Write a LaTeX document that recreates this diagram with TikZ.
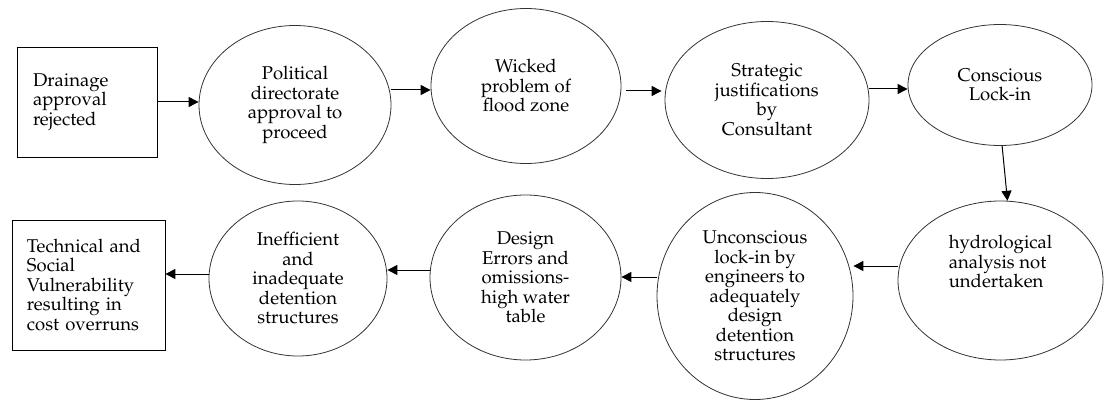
\documentclass[tikz,border=0pt]{standalone}
\usepackage[T1]{fontenc}
\usepackage{mathpazo}
\usetikzlibrary{shapes.geometric}
\usetikzlibrary{arrows.meta}

\begin{document}
\begin{tikzpicture}[
stage/.style={ellipse, inner sep=0pt, line width=0.8pt, draw=black!80, align=center, font=\fontsize{18.5}{19.5}\selectfont},
stepbox/.style={rectangle, inner ysep=0pt, line width=0.8pt, draw=black, align=left, font=\fontsize{18.5}{19.5}\selectfont},
flow/.style={line width=1pt, -{Triangle[length=10pt, width=10pt]}}]
\useasboundingbox (0pt, 0pt) rectangle (1104pt, -401pt);
% top row
\node (drain) [stepbox, inner xsep=16pt, text width=108pt, minimum height=110pt] at (87pt, -102pt) {Drainage\\approval\\rejected};
\node (pol) [stage, minimum width=192pt, minimum height=159pt] at (295pt, -105pt) {Political\\directorate\\approval to\\proceed};
\node (wick) [stage, minimum width=190pt, minimum height=155pt] at (526pt, -86pt) {Wicked\\problem of\\flood zone};
\node (strat) [stage, minimum width=204pt, minimum height=157pt] at (767pt, -100pt) {Strategic\\justifications\\by\\Consultant};
\node (cons) [stage, minimum width=184pt, minimum height=121pt] at (1000pt, -85pt) {Conscious\\Lock-in};
% bottom row
\node (hydro) [stage, align=left, minimum width=205pt, minimum height=159pt] at (1000.5pt, -280.5pt) {hydrological\\analysis not\\undertaken\\[18pt]\mbox{}};
\node (uncon) [stage, minimum width=196pt, minimum height=207pt] at (755pt, -296pt) {Unconscious\\lock-in by\\engineers to\\adequately\\design\\detention\\structures};
\node (design) [stage, minimum width=191pt, minimum height=165pt] at (525.5pt, -277.5pt) {Design\\Errors and\\omissions-\\high water\\table};
\node (ineff) [stage, minimum width=178pt, minimum height=155pt] at (298pt, -278.5pt) {Inefficient\\and\\inadequate\\detention\\structures};
\node (tech) [stepbox, inner xsep=15pt, text width=123pt, minimum height=130pt] at (88.5pt, -285pt) {Technical and\\Social\\Vulnerability\\resulting in\\cost overruns};
% arrows
\draw [flow] (drain.east) -- (drain.east -| pol.west);
\draw [flow] (pol.east |- 0pt,-90pt) -- (wick.west |- 0pt,-90pt);
\draw [flow, shorten <=5pt, shorten >=3pt] (wick.east |- 0pt,-91pt) -- (strat.west |- 0pt,-91pt);
\draw [flow] (strat.east |- 0pt,-89pt) -- (cons.west |- 0pt,-89pt);
\draw [flow] (cons.-88) -- (hydro.85);
\draw [flow] (hydro.west |- 0pt,-266pt) -- (uncon.east |- 0pt,-266pt);
\draw [flow] (uncon.west |- 0pt,-277pt) -- (design.east |- 0pt,-277pt);
\draw [flow] (design.west |- 0pt,-270pt) -- (ineff.east |- 0pt,-270pt);
\draw [flow] (ineff.west |- 0pt,-274pt) -- (tech.east |- 0pt,-274pt);
\end{tikzpicture}
\end{document}
